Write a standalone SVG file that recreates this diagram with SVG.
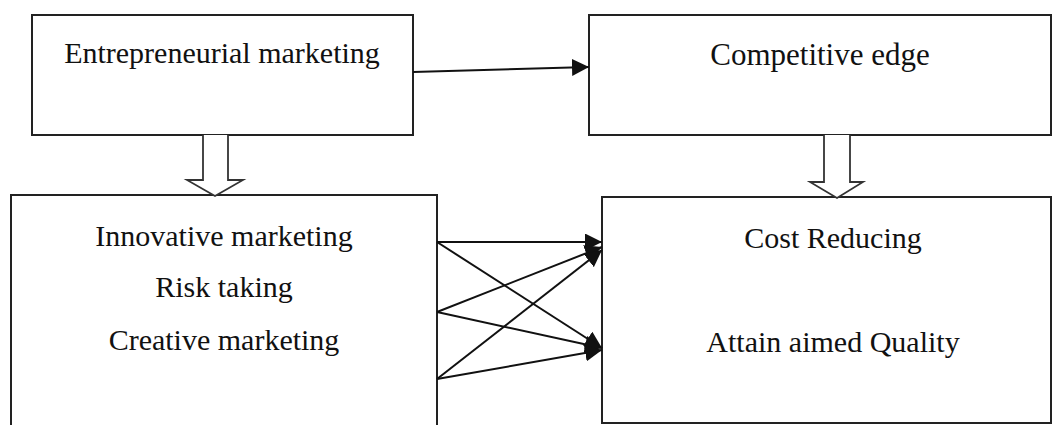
<svg xmlns="http://www.w3.org/2000/svg" width="1053" height="425" viewBox="0 0 1053 425">
<defs>
<style>
.box{fill:#fff;stroke:#222;stroke-width:2}
.t{font-family:"Liberation Serif","Times New Roman",serif;font-size:30px;fill:#111;text-anchor:middle}
.ln{stroke:#111;stroke-width:2;fill:none}
.hollow{fill:#fff;stroke:#333;stroke-width:1.8;stroke-linejoin:miter}
</style>
<marker id="ah" viewBox="0 0 10 10" refX="10" refY="5" markerWidth="9" markerHeight="9" markerUnits="userSpaceOnUse" orient="auto">
<path d="M0,0 L10,5 L0,10 z" fill="#111"/>
</marker>
<marker id="ahb" viewBox="0 0 10 10" refX="10" refY="5" markerWidth="17" markerHeight="17" markerUnits="userSpaceOnUse" orient="auto">
<path d="M0,0 L10,5 L0,10 z" fill="#111"/>
</marker>
</defs>
<rect width="1053" height="425" fill="#fff"/>
<g id="node-entrepreneurial">
<rect class="box" x="32" y="15" width="381" height="120"/>
<text class="t" x="222" y="63">Entrepreneurial marketing</text>
</g>
<g id="node-competitive">
<rect class="box" x="589" y="15" width="462" height="120"/>
<text class="t" x="820" y="65" style="font-size:31px">Competitive edge</text>
</g>
<g id="node-dimensions">
<rect class="box" x="11" y="195" width="426" height="240"/>
<text class="t" x="224" y="246">Innovative marketing</text>
<text class="t" x="224" y="297">Risk taking</text>
<text class="t" x="224" y="350">Creative marketing</text>
</g>
<g id="node-outcomes">
<rect class="box" x="602" y="197" width="449" height="226"/>
<text class="t" x="833" y="248">Cost Reducing</text>
<text class="t" x="833" y="352">Attain aimed Quality</text>
</g>
<g id="connectors">
<line class="ln" x1="413" y1="72" x2="589" y2="67" marker-end="url(#ahb)"/>
<path class="hollow" d="M203,135 L203,180 L187,180 L215,196 L243,180 L228,180 L228,135"/>
<path class="hollow" d="M824,135 L824,182 L810,182 L837,198 L863,182 L850,182 L850,135"/>
<line class="ln" x1="437" y1="242" x2="602" y2="242" marker-end="url(#ahb)"/>
<line class="ln" x1="437" y1="312" x2="602" y2="247" marker-end="url(#ahb)"/>
<line class="ln" x1="437" y1="379" x2="602" y2="250" marker-end="url(#ahb)"/>
<line class="ln" x1="437" y1="242" x2="602" y2="348" marker-end="url(#ahb)"/>
<line class="ln" x1="437" y1="312" x2="602" y2="348" marker-end="url(#ahb)"/>
<line class="ln" x1="437" y1="379" x2="602" y2="350" marker-end="url(#ahb)"/>
</g>
</svg>
